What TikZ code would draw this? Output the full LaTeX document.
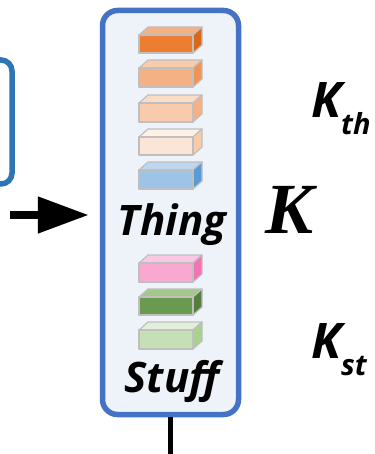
\documentclass[tikz,border=0pt]{standalone}
\usepackage{fontspec}
\newfontfamily\labelfont{Open Sans}
\newfontfamily\kfont{Liberation Serif}
\usetikzlibrary{arrows.meta}

\definecolor{panelblue}{HTML}{4472C4}
\definecolor{panelfill}{HTML}{EEF3FA}
\definecolor{sideblue}{HTML}{2E75B6}
\definecolor{cubeedge}{HTML}{BFBFBF}

% a small 3-D block: front face between y=#1 and y=#2, then front/top/side colours
\newcommand\featcube[5]{%
  \definecolor{cubefront}{HTML}{#3}%
  \definecolor{cubetop}{HTML}{#4}%
  \definecolor{cubeside}{HTML}{#5}%
  \filldraw[cubeedge, line width=1.2pt, fill=cubetop, line join=round]
    (139,#1) -- (148,#1-8) -- (202,#1-8) -- (193,#1) -- cycle;
  \filldraw[cubeedge, line width=1.2pt, fill=cubeside, line join=round]
    (193,#1) -- (202,#1-8) -- (202,#2-8) -- (193,#2) -- cycle;
  \filldraw[cubeedge, line width=1.2pt, fill=cubefront, line join=round]
    (139,#1) rectangle (193,#2);
}

\tikzset{
  panel/.style={draw=panelblue, line width=5.5pt, fill=panelfill, rounded corners=15pt,
    minimum width=136pt, minimum height=404pt, inner sep=0pt},
  tagtext/.style={font=\labelfont\bfseries\itshape\fontsize{42}{42}\selectfont, anchor=base, inner sep=0pt},
  symtext/.style={font=\labelfont\bfseries\itshape\fontsize{49}{49}\selectfont, anchor=base west, inner sep=0pt},
  subtext/.style={font=\labelfont\bfseries\itshape\fontsize{29}{29}\selectfont, anchor=base west, inner sep=0pt},
  flow/.style={line width=8pt, -{Triangle[length=51pt, width=35pt]}},
  link/.style={line width=5pt},
}

\begin{document}
\begin{tikzpicture}[x=1pt, y=-1pt]
  \useasboundingbox (0,0) rectangle (374,454);

  % edge of the preceding block, cut by the border
  \draw[sideblue, line width=5.5pt, rounded corners=11pt, fill=white] (-60,60) rectangle (12,184);

  % the panel holding the query features
  \node[panel] (box) at (170.5,212.5) {};

  % thing queries
  \featcube{35}{53}{ED7D31}{F4B183}{D8681C}
  \featcube{68}{87}{F4B183}{F8CBAD}{EE9555}
  \featcube{103}{122}{F8CBAD}{FBDCC6}{F4B183}
  \featcube{137}{155}{FBE5D6}{FDF1E8}{F8CBAD}
  \featcube{170}{189}{9DC3E6}{BDD7EE}{5B9BD5}
  \node[tagtext] (thing) at (172,235) {Thing};

  % stuff queries
  \featcube{263}{282}{F9A8D2}{FBC8E4}{F272B4}
  \featcube{297}{315}{6A9950}{A2C98A}{557E3E}
  \featcube{330}{349}{C5E0B4}{E2F0D9}{A9D18E}
  \node[tagtext] (stuff) at (172,392) {Stuff};

  % labels on the right
  \node[font=\kfont\bfseries\itshape\fontsize{72}{72}\selectfont, anchor=base, inner sep=0pt] (k) at (290,233) {K};
  \node[symtext] (kth) at (311,118) {K};
  \node[subtext] (kthsub) at (341,135) {th};
  \node[symtext] (kst) at (311,358) {K};
  \node[subtext] (kstsub) at (341,375) {st};

  % connectors
  \coordinate (src) at (10,215);
  \coordinate (below) at (170.5,456);
  \draw[flow, shorten >=11pt] (src) -- (src -| box.west);
  \draw[link] (box.south) -- (below);
\end{tikzpicture}
\end{document}
